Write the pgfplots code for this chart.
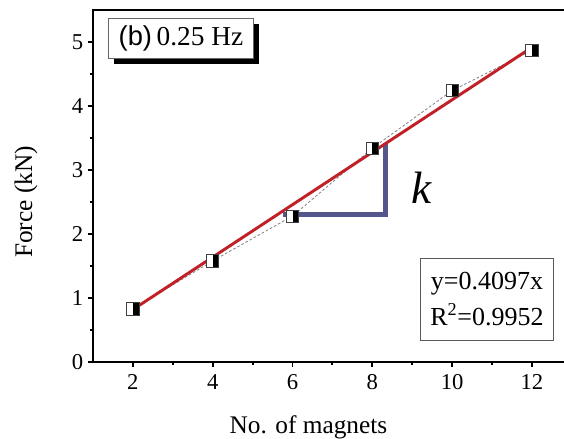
\documentclass[border=0pt]{standalone}
\usepackage{fontspec}
\setmainfont{Liberation Serif}
\setsansfont{Liberation Sans}
\usepackage{pgfplots}
\pgfplotsset{compat=1.18}
\usetikzlibrary{shadows}
\definecolor{fitred}{RGB}{192,32,38}
\definecolor{kblue}{RGB}{84,86,140}

\pgfdeclareplotmark{halfsq}{%
  \pgfpathrectangle{\pgfpoint{-\pgfplotmarksize}{-\pgfplotmarksize}}{\pgfpoint{2\pgfplotmarksize}{2\pgfplotmarksize}}%
  \pgfsetfillcolor{white}\pgfusepath{fill}%
  \pgfpathrectangle{\pgfpoint{0pt}{-\pgfplotmarksize}}{\pgfpoint{\pgfplotmarksize}{2\pgfplotmarksize}}%
  \pgfsetfillcolor{black}\pgfusepath{fill}%
  \pgfpathrectangle{\pgfpoint{-\pgfplotmarksize}{-\pgfplotmarksize}}{\pgfpoint{2\pgfplotmarksize}{2\pgfplotmarksize}}%
  \pgfusepath{stroke}%
}

\begin{document}
\begin{tikzpicture}
\begin{axis}[
  at={(0,0)}, anchor=south west,
  scale only axis, width=359.1pt, height=264pt,
  xmin=1, xmax=13, ymin=0, ymax=5.5,
  xtick={2,4,...,12}, minor xtick={3,5,...,11},
  ytick={0,1,...,5}, minor ytick={0.5,1.5,...,4.5},
  tick align=outside, tick pos=left,
  major tick length=3.75pt, minor tick length=2.6pt,
  axis line style={line width=1.6pt},
  every tick/.append style={line width=1.4pt, black},
  /pgf/number format/assume math mode=true,
  tick label style={font=\fontsize{17}{17}\selectfont},
  xticklabel style={yshift=-2pt},
  xlabel={No. of magnets}, ylabel={Force (kN)},
  label style={font=\fontsize{19}{19}\selectfont},
  xlabel style={at={(axis description cs:0.45,-0.14)}, anchor=north},
  ylabel style={at={(axis description cs:-0.14,0.455)}, anchor=center},
  clip=false,
]
\draw[kblue, line width=3.75pt, line join=miter] (axis cs:5.75,2.3) -- (axis cs:8.34,2.3) -- (axis cs:8.34,3.42);
\addplot[gray, dashed, line width=0.6pt, dash pattern=on 2pt off 1.5pt, mark=none] coordinates {
  (2,0.83) (4,1.58) (6,2.28) (8,3.34) (10,4.24) (12,4.87)};
\addplot[only marks, mark=halfsq, mark size=4.6pt, mark options={draw=black!75, line width=0.6pt}] coordinates {
  (2,0.83) (4,1.58) (6,2.28) (8,3.34) (10,4.24) (12,4.87)};
\addplot[fitred, line width=2.2pt, mark=none] coordinates {(2,0.8194) (12,4.9164)};

\node[draw=gray!80!black, line width=0.6pt, fill=white,
  drop shadow={shadow xshift=4pt, shadow yshift=-4pt, fill=black, opacity=1},
  minimum width=108.75pt, minimum height=30pt, anchor=north west, inner sep=0pt,
  font=\fontsize{20.5}{20.5}\selectfont] at (axis cs:1.376,5.375) {{\sffamily (b)}\,0.25 Hz};
\node[font=\fontsize{34}{34}\selectfont\itshape] at (axis cs:9.245,2.72) {k};
\node[draw=gray!70!black, line width=0.8pt, fill=white, minimum width=99.75pt, minimum height=61.5pt,
  anchor=north west, align=center, inner sep=0pt, font=\fontsize{19.5}{27}\selectfont]
  at (axis cs:9.195,1.625) {y=0.4097x\\R\textsuperscript{2}=0.9952};
\end{axis}
\pgfresetboundingbox
\path[use as bounding box] (-69.75pt,-57.75pt) rectangle (353.25pt,271.5pt);
\end{tikzpicture}
\end{document}
